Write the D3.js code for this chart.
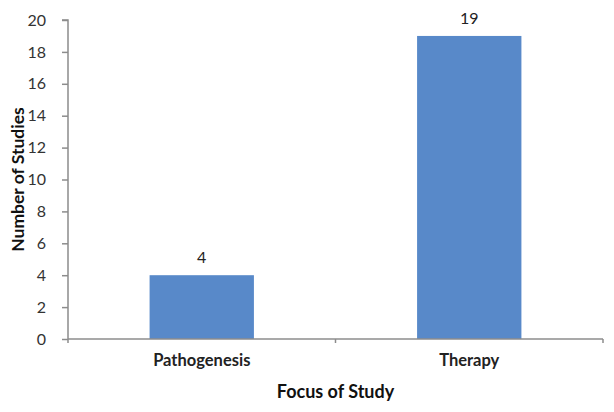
<!DOCTYPE html>
<html lang="en">
<head>
  <meta charset="UTF-8">
  <title>Focus of Study</title>
  <style>
    body { margin:0; background:#fff; overflow:hidden; }
    #chart { display:block; }
    text { font-family: Lato, "Open Sans", sans-serif; }
  </style>
</head>
<body>
  <svg id="chart" width="614" height="412"></svg>
  <script src="https://d3js.org/d3.v7.min.js"></script>
  <script>
    const categories = ['Pathogenesis', 'Therapy'];
    const counts = [4, 19];
    const yTicks = [0, 2, 4, 6, 8, 10, 12, 14, 16, 18, 20];

    const svg = d3.select('#chart');
    const m = {top:20, right:11, bottom:73, left:68};
    const W = 614, H = 412;

    const x = d3.scaleBand().domain(categories)
      .range([m.left, W - m.right]).paddingInner(0.61).paddingOuter(0.305);
    const y = d3.scaleLinear().domain([0, 20]).range([H - m.bottom, m.top]);

    const axisColor = '#8c8c8c';

    // bars
    svg.selectAll('rect.bar').data(counts).join('rect')
      .attr('class', 'bar')
      .attr('x', (d, i) => x(categories[i]))
      .attr('width', x.bandwidth())
      .attr('y', d => y(d))
      .attr('height', d => y(0) - y(d))
      .attr('fill', '#5889c9');

    // value labels
    svg.selectAll('text.val').data(counts).join('text')
      .attr('class', 'val')
      .attr('x', (d, i) => x(categories[i]) + x.bandwidth() / 2)
      .attr('y', d => y(d) - 12)
      .attr('text-anchor', 'middle')
      .attr('font-size', 16)
      .attr('fill', '#222')
      .text(d => d);

    // y axis
    const yAxis = svg.append('g')
      .attr('transform', `translate(${m.left},0)`)
      .call(d3.axisLeft(y).tickValues(yTicks).tickSize(6).tickPadding(16));
    yAxis.selectAll('line, path').attr('stroke', axisColor).attr('stroke-width', 1.5);
    yAxis.select('.domain').attr('d', `M-6,${y(20)}H0V${y(0)}`);
    yAxis.selectAll('text').attr('font-size', 16).attr('fill', '#333')
      .style('font-family', 'Lato, sans-serif');

    // x axis
    const xAxis = svg.append('g')
      .attr('transform', `translate(0,${y(0)})`)
      .call(d3.axisBottom(x).tickSize(0).tickPadding(15));
    xAxis.select('.domain').attr('stroke', axisColor).attr('stroke-width', 1.5)
      .attr('d', `M${m.left},0H${W - m.right}`);
    xAxis.selectAll('text').attr('font-size', 16.5).attr('font-weight', 'bold').attr('fill', '#222')
      .style('font-family', 'Lato, sans-serif');
    // small ticks between categories
    const bounds = [m.left, (m.left + W - m.right) / 2, W - m.right];
    xAxis.selectAll('line.sep').data(bounds).join('line')
      .attr('class', 'sep')
      .attr('x1', d => d).attr('x2', d => d)
      .attr('y1', 0).attr('y2', 4)
      .attr('stroke', axisColor).attr('stroke-width', 1.5);

    // axis titles
    svg.append('text')
      .attr('x', (m.left + W - m.right) / 2)
      .attr('y', 398)
      .attr('text-anchor', 'middle')
      .attr('font-size', 18).attr('font-weight', 'bold').attr('fill', '#111')
      .text('Focus of Study');

    svg.append('text')
      .attr('transform', `translate(24,${(y(0) + y(20)) / 2}) rotate(-90)`)
      .attr('text-anchor', 'middle')
      .attr('font-size', 17.5).attr('font-weight', 'bold').attr('fill', '#111')
      .text('Number of Studies');
  </script>
</body>
</html>
